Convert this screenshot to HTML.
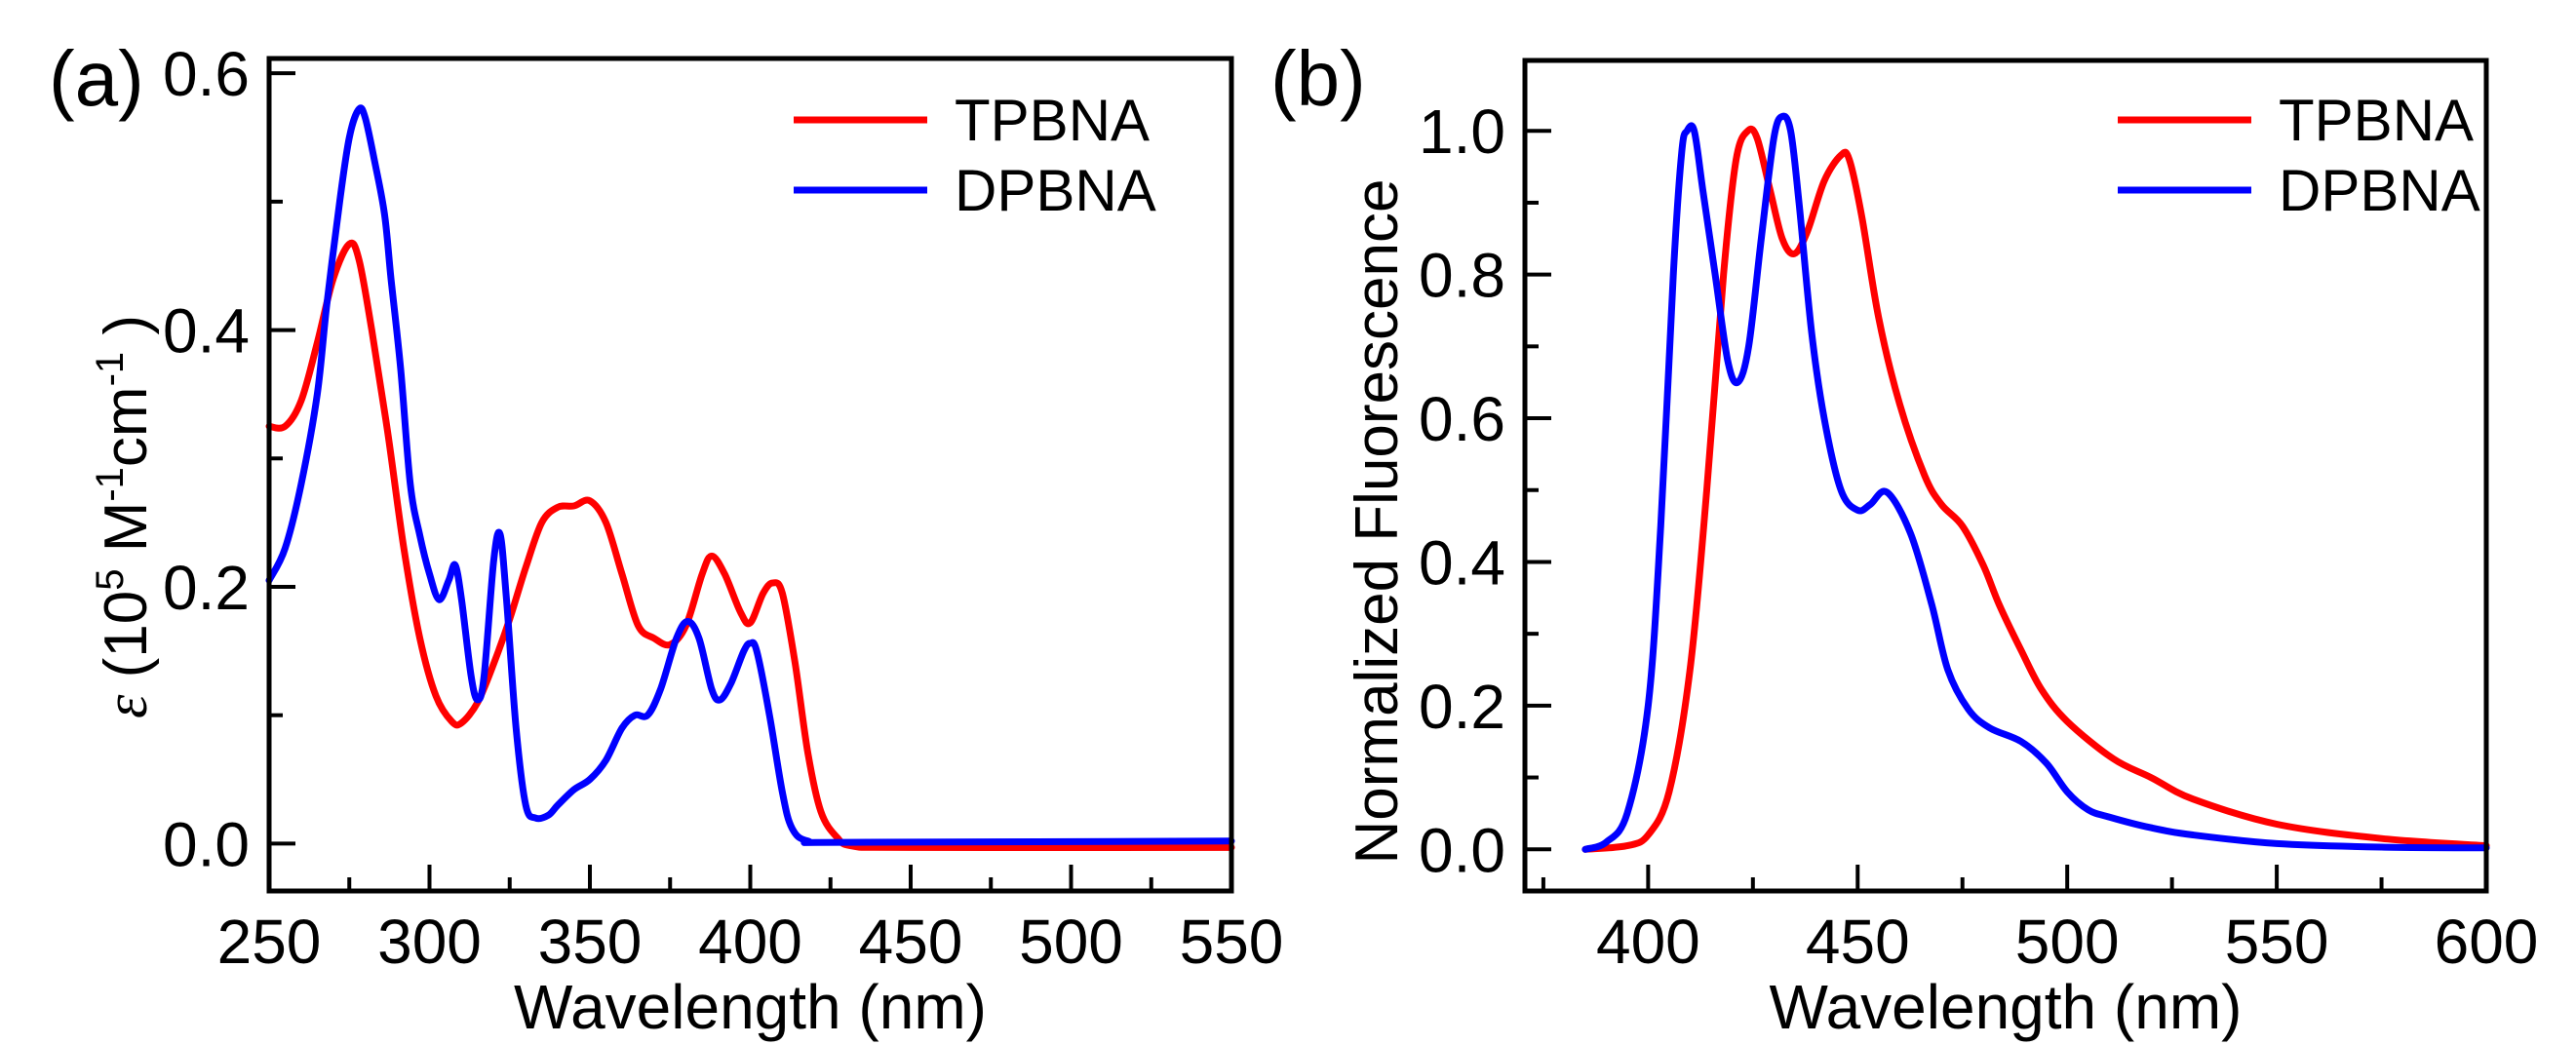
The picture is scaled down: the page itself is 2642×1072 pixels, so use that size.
<!DOCTYPE html>
<html><head><meta charset="utf-8"><style>
html,body{margin:0;padding:0;background:#fff;}
svg{display:block;font-family:"Liberation Sans",Arial,sans-serif;}
</style></head><body>
<svg id="chart" width="2642" height="1072" viewBox="0 0 2642 1072" xmlns="http://www.w3.org/2000/svg"></svg>
<script>
// Panel (a) data: absorption
const absTPBNA_x=[250,255,260,265,270,275,278,282,287,292,297,302,307,310,315,320,325,330,335,340,345,350,355,360,365,370,375,380,385,388,392,397,400,404,407,410,414,418,422,427,432,450,550];
const absTPBNA_y=[0.325,0.325,0.345,0.39,0.44,0.467,0.455,0.40,0.32,0.23,0.16,0.115,0.095,0.094,0.11,0.14,0.175,0.215,0.25,0.262,0.263,0.267,0.25,0.21,0.17,0.16,0.155,0.17,0.21,0.224,0.21,0.18,0.172,0.195,0.203,0.195,0.14,0.07,0.025,0.005,-0.002,-0.003,-0.003];
const absDPBNA_x=[250,255,260,265,268,272,275,278,280,283,286,288,291,294,297,300,303,306,308,310,313,315,317,320,322,324,327,330,333,337,340,345,350,355,360,364,368,372,377,380.5,384,388,390.6,394,398,400,402,406,410,413,418,430,550];
const absDPBNA_y=[0.205,0.23,0.28,0.35,0.42,0.5,0.55,0.572,0.565,0.53,0.49,0.44,0.37,0.28,0.24,0.21,0.19,0.205,0.217,0.19,0.13,0.112,0.13,0.22,0.241,0.19,0.09,0.03,0.02,0.022,0.03,0.042,0.05,0.065,0.09,0.1,0.1,0.12,0.16,0.173,0.16,0.12,0.112,0.125,0.15,0.156,0.15,0.1,0.04,0.012,0.002,0.001,0.002];
const absXTicks=[250,300,350,400,450,500,550];
const absYTicks=[0.0,0.2,0.4,0.6];
// Panel (b) data: fluorescence
const flTPBNA_x=[385,395,400,405,410,414,418,421,423.8,426,429,432,434.9,438,442,446,448,451,455,460,466,470,475,480,483.8,489,493.8,500,511,520,530,550,575,600];
const flTPBNA_y=[0,0.005,0.02,0.08,0.25,0.5,0.8,0.96,1.0,0.99,0.92,0.85,0.829,0.86,0.93,0.966,0.96,0.88,0.74,0.62,0.52,0.48,0.45,0.395,0.34,0.277,0.223,0.178,0.126,0.1,0.07,0.035,0.015,0.005];
const flDPBNA_x=[385,390,395,400,403,406,408,409.3,411,413,416,419,421.4,424,427,430,432,434,436,439,442,446,450,453,457,462.6,467.7,471.5,476.4,481.5,489,495,500,505,510,520,530,550,575,600];
const flDPBNA_y=[0,0.01,0.05,0.2,0.45,0.8,0.97,1.0,1.0,0.92,0.8,0.68,0.65,0.7,0.85,0.99,1.02,1.0,0.9,0.72,0.6,0.5,0.472,0.48,0.497,0.44,0.34,0.25,0.195,0.169,0.15,0.12,0.08,0.055,0.045,0.03,0.02,0.008,0.003,0.002];
const flXTicks=[400,450,500,550,600];
const flYTicks=[0.0,0.2,0.4,0.6,0.8,1.0];

const NS="http://www.w3.org/2000/svg";
const svg=document.getElementById('chart');
function mk(tag,attrs,parent){const e=document.createElementNS(NS,tag);for(const k in attrs)e.setAttribute(k,attrs[k]);(parent||svg).appendChild(e);return e;}

function smoothPath(pts){
  let d='M'+pts[0][0].toFixed(1)+','+pts[0][1].toFixed(1);
  for(let i=0;i<pts.length-1;i++){
    const p0=pts[Math.max(0,i-1)],p1=pts[i],p2=pts[i+1],p3=pts[Math.min(pts.length-1,i+2)];
    const c1x=p1[0]+(p2[0]-p0[0])/6,c1y=p1[1]+(p2[1]-p0[1])/6;
    const c2x=p2[0]-(p3[0]-p1[0])/6,c2y=p2[1]-(p3[1]-p1[1])/6;
    d+=' C'+c1x.toFixed(1)+','+c1y.toFixed(1)+' '+c2x.toFixed(1)+','+c2y.toFixed(1)+' '+p2[0].toFixed(1)+','+p2[1].toFixed(1);
  }
  return d;
}

function panel(cfg){
  const g=mk('g',{});
  
  
  const X=v=>cfg.L+(v-cfg.x0)/(cfg.x1-cfg.x0)*(cfg.R-cfg.L);
  const Y=v=>cfg.B-(v-cfg.y0)/(cfg.y1-cfg.y0)*(cfg.B-cfg.T);
  cfg.series.forEach(s=>{
    const pts=s.x.map((xv,i)=>[X(xv),Y(s.y[i])]);
    const p=mk('path',{d:smoothPath(pts),fill:'none',stroke:s.color,'stroke-width':7,'stroke-linejoin':'round','stroke-linecap':'round'},g);
    
    
  });
  const fr=mk('rect',{x:cfg.L,y:cfg.T,width:cfg.R-cfg.L,height:cfg.B-cfg.T,fill:'none',stroke:'#000','stroke-width':5},g);
  
  
  cfg.xt.forEach(v=>{
    const l=mk('line',{x1:X(v),x2:X(v),y1:cfg.B,y2:cfg.B-27,stroke:'#000','stroke-width':4},g);
    
    
    const t=mk('text',{x:X(v),y:988,'text-anchor':'middle','font-size':64},g);
    t.textContent=String(v);
    
    
    const mv=v+(cfg.xt[1]-cfg.xt[0])/2;
    if(mv<cfg.x1){const m=mk('line',{x1:X(mv),x2:X(mv),y1:cfg.B,y2:cfg.B-14,stroke:'#000','stroke-width':4},g);
      
      }
    const pv=v-(cfg.xt[1]-cfg.xt[0])/2;
    if(v===cfg.xt[0]&&pv>cfg.x0){const m=mk('line',{x1:X(pv),x2:X(pv),y1:cfg.B,y2:cfg.B-14,stroke:'#000','stroke-width':4},g);
      
      }
  });
  const ys=cfg.yt[1]-cfg.yt[0];
  cfg.yt.forEach(v=>{
    const l=mk('line',{x1:cfg.L,x2:cfg.L+27,y1:Y(v),y2:Y(v),stroke:'#000','stroke-width':4},g);
    
    
    const t=mk('text',{x:cfg.L-20,y:Y(v)+23,'text-anchor':'end','font-size':64},g);
    t.textContent=v.toFixed(1);
    
    
    const mv=v+ys/2;
    if(mv<cfg.y1){const m=mk('line',{x1:cfg.L,x2:cfg.L+14,y1:Y(mv),y2:Y(mv),stroke:'#000','stroke-width':4},g);
      
      }
  });
  const xt=mk('text',{x:(cfg.L+cfg.R)/2,y:1055,'text-anchor':'middle','font-size':64},g);
  xt.textContent='Wavelength (nm)';
  
  
  cfg.series.forEach((s,i)=>{
    const ly=cfg.legY+i*72;
    const ll=mk('line',{x1:cfg.legX,x2:cfg.legX+137,y1:ly,y2:ly,stroke:s.color,'stroke-width':7},g);
    
    
    const lt=mk('text',{x:cfg.legX+165,y:ly+21,'font-size':60},g);
    lt.textContent=s.label;
    
    
  });
  return {g,X,Y};
}

panel({name:'panel-a-absorption',L:276,R:1263,T:60,B:914,x0:250,x1:550,y0:-0.0369,y1:0.6115,
  xt:absXTicks,yt:absYTicks,legX:814,legY:123,
  series:[{x:absTPBNA_x,y:absTPBNA_y,color:'#ff0000',label:'TPBNA',dname:'tpbna-absorption-line'},
          {x:absDPBNA_x,y:absDPBNA_y,color:'#0000ff',label:'DPBNA',dname:'dpbna-absorption-line'}]});
panel({name:'panel-b-fluorescence',L:1564,R:2550,T:62,B:914,x0:370.6,x1:600,y0:-0.058,y1:1.098,
  xt:flXTicks,yt:flYTicks,legX:2172,legY:123,
  series:[{x:flTPBNA_x,y:flTPBNA_y,color:'#ff0000',label:'TPBNA',dname:'tpbna-fluorescence-line'},
          {x:flDPBNA_x,y:flDPBNA_y,color:'#0000ff',label:'DPBNA',dname:'dpbna-fluorescence-line'}]});
</script>
<svg style="position:absolute;left:0;top:0" width="2642" height="1072">
  <text x="50" y="108" font-size="80" font-family="Liberation Sans, sans-serif">(a)</text>
  <text x="1303" y="108" font-size="80" font-family="Liberation Sans, sans-serif">(b)</text>
  <text transform="translate(150,530) rotate(-90)" text-anchor="middle" font-size="62" font-family="Liberation Sans, sans-serif"><tspan font-style="italic" font-family="Liberation Serif, serif">ε</tspan> (10<tspan font-size="40" dy="-24">5</tspan><tspan dy="24"> M</tspan><tspan font-size="40" dy="-24">-1</tspan><tspan dy="24">cm</tspan><tspan font-size="40" dy="-24">-1</tspan><tspan dy="24"> )</tspan></text>
  <text transform="translate(1433,535) rotate(-90)" text-anchor="middle" font-size="62" font-family="Liberation Sans, sans-serif">Normalized Fluorescence</text>
</svg>
</body></html>
